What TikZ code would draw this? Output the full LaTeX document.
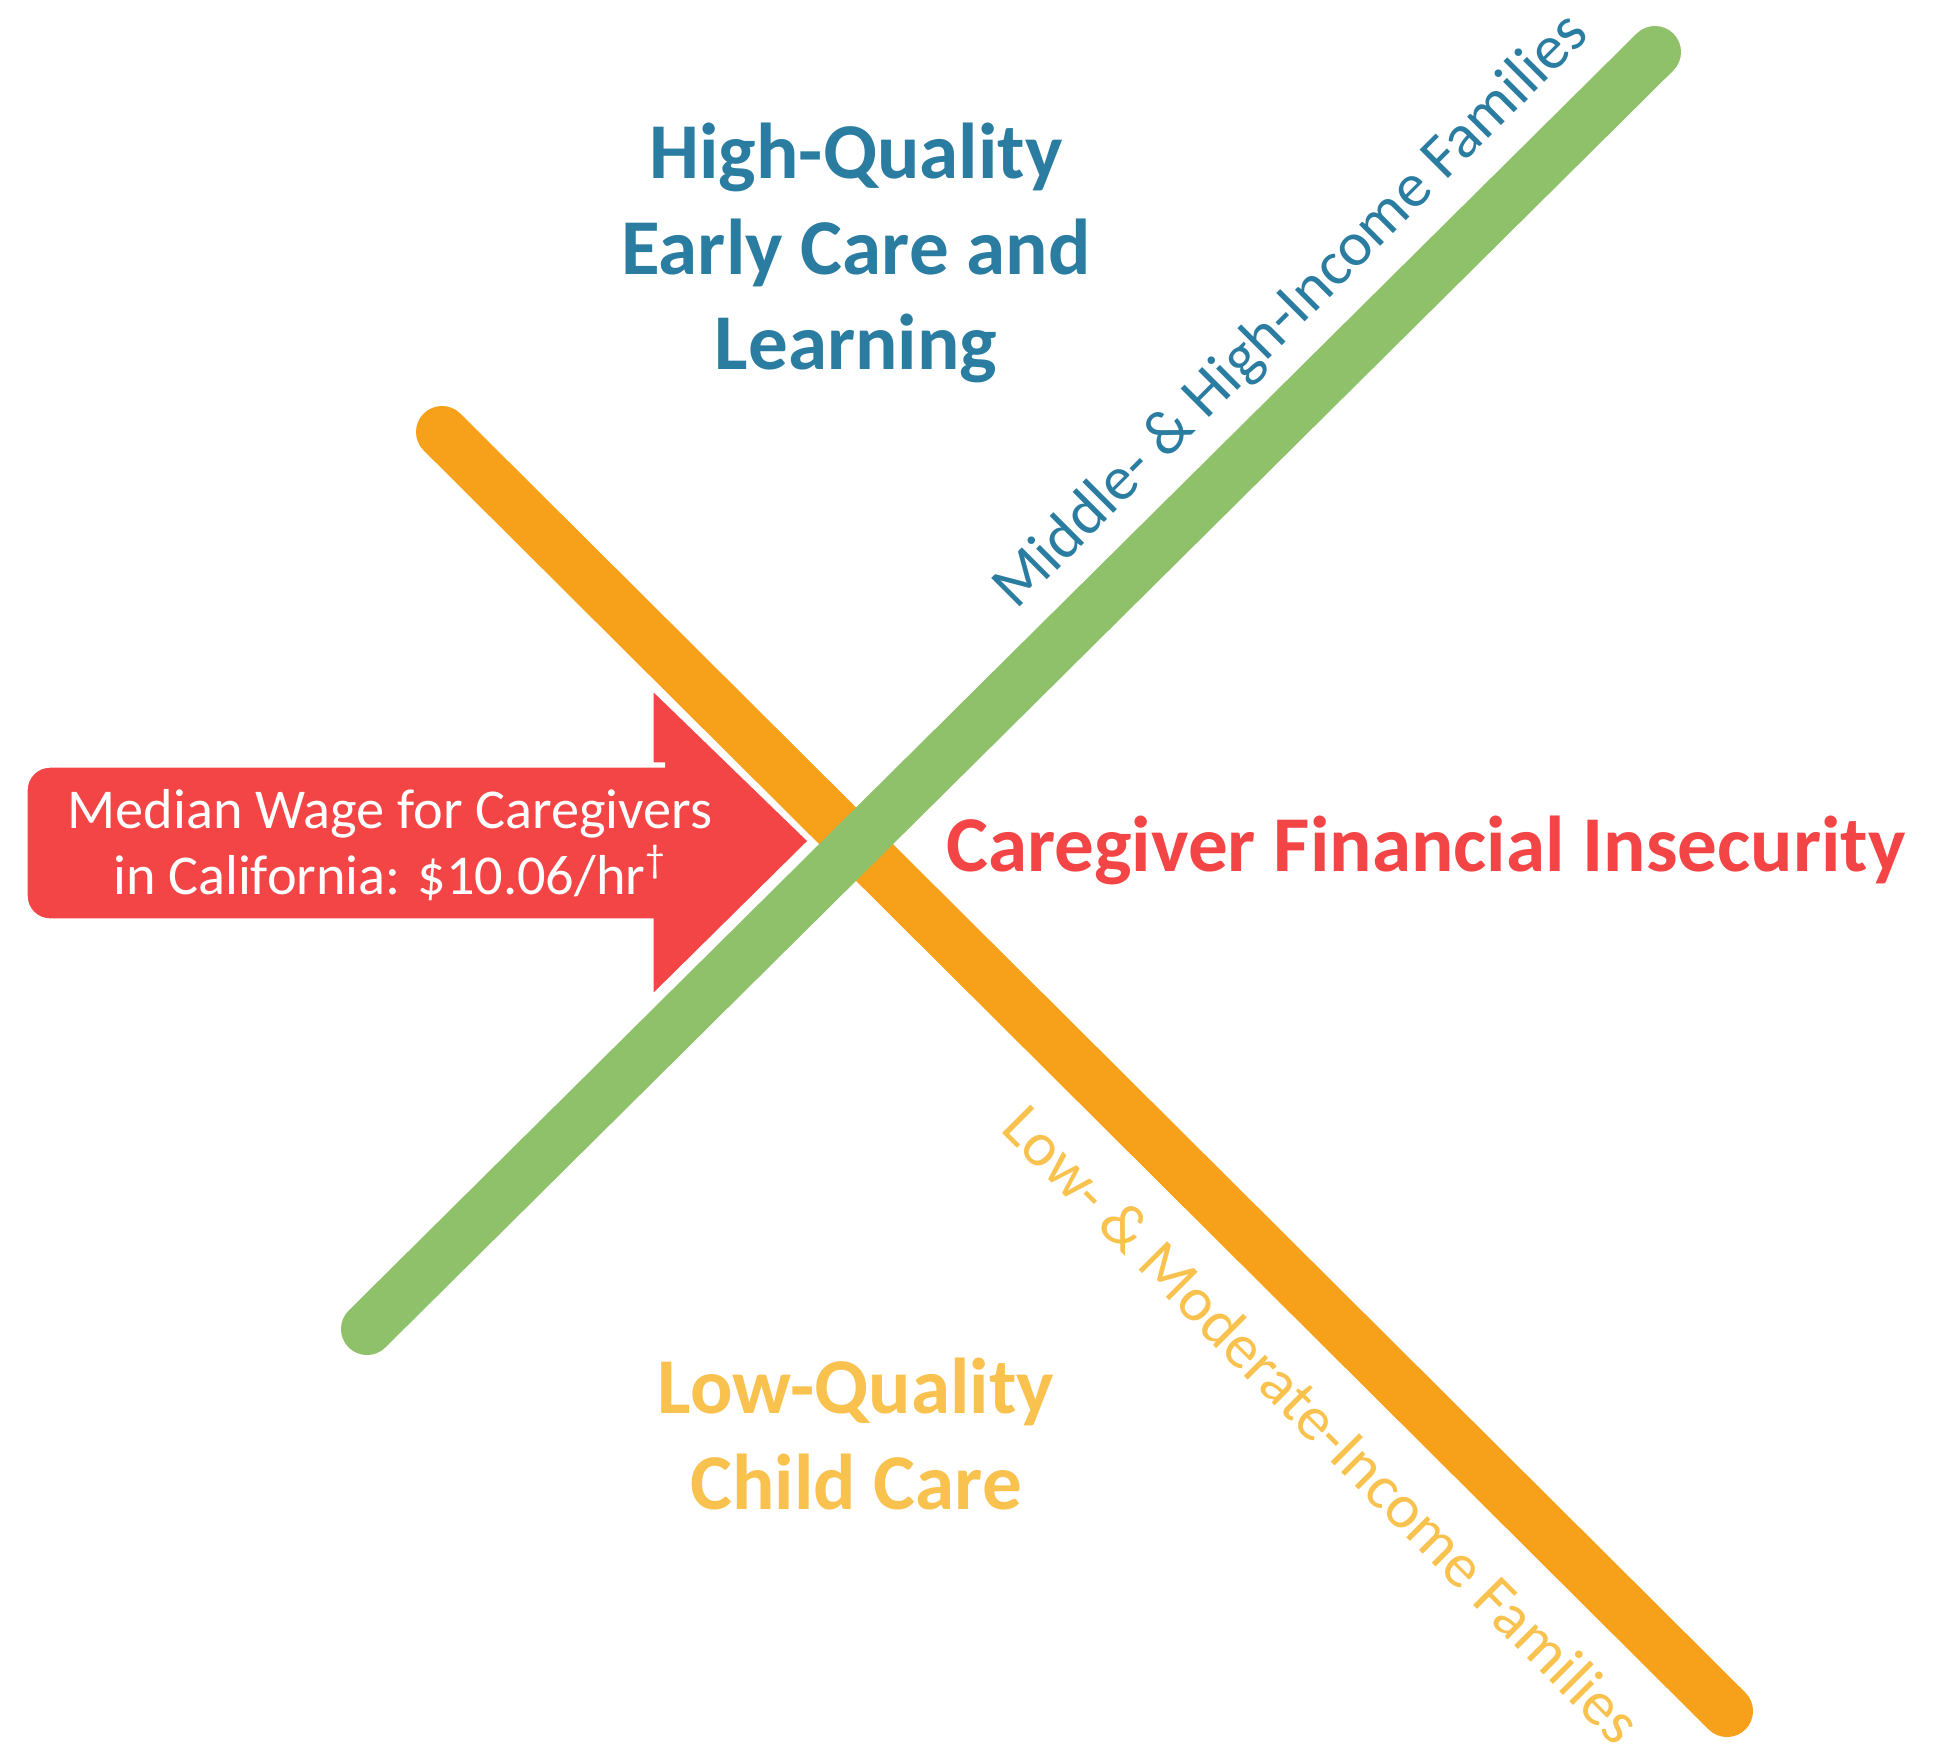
\documentclass[tikz,border=0pt]{standalone}
\usepackage{fontspec}
\setmainfont{Carlito}
\definecolor{stripeorange}{HTML}{F7A11A}
\definecolor{stripegreen}{HTML}{8FC06A}
\definecolor{titleblue}{HTML}{2A7CA0}
\definecolor{wagered}{HTML}{F44546}
\definecolor{lowyellow}{HTML}{F9C24E}

\begin{document}
\begin{tikzpicture}[x=0.01cm,y=-0.01cm,
  stripe/.style={line width=0.52cm,line cap=round},
  headline/.style={font=\bfseries\fontsize{22.5}{27.2}\selectfont,align=center},
  slanted/.style={font=\fontsize{17.8}{20}\selectfont}]

\useasboundingbox (0,0) rectangle (1951,1744);

% the two stripes
\coordinate (o1) at (442,432);
\coordinate (o2) at (1727,1711);
\coordinate (g1) at (367,1329);
\coordinate (g2) at (1655,52);

\draw [stripe,stripeorange] (o1) -- (o2);

% wage arrow
\fill [wagered,draw=white,line width=1.5pt]
  (25,843) [rounded corners=0.25cm] -- (25,765) -- (640,765)
  [sharp corners] -- (651,765) -- (651,686) -- (811,841) -- (651,999)
  -- (651,921) -- (640,921) [rounded corners=0.25cm] -- (25,921) -- cycle;
\node [white,font=\fontsize{16}{19}\selectfont,align=center] (wage) at (390,845)
  {Median Wage for Caregivers\\in California: \$10.06/hr\textsuperscript{†}};

\draw [stripe,stripegreen] (g1) -- (g2);

% labels
\node [headline,titleblue] (high) at (856,253) {High-Quality\\Early Care and\\Learning};
\node [headline,lowyellow] (low) at (856,1434) {Low-Quality\\Child Care};
\node [wagered,font=\bfseries\fontsize{22.5}{27}\selectfont] (insec) at (1426,850)
  {Caregiver Financial Insecurity};
\node [slanted,titleblue,rotate=45] (mid) at (1292,312) {Middle- \& High-Income Families};
\node [slanted,lowyellow,rotate=-45] (lowmod) at (1323,1424) {Low- \& Moderate-Income Families};

\end{tikzpicture}
\end{document}
